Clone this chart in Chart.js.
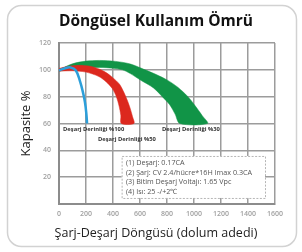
<!DOCTYPE html>
<html>
<head>
<meta charset="utf-8">
<script src="https://cdn.jsdelivr.net/npm/chart.js@4.4.1/dist/chart.umd.min.js"></script>
<style>
html, body { margin: 0; padding: 0; background: #fff; }
</style>
</head>
<body>
<canvas id="myChart" width="302" height="252"></canvas>
<script>
// tick values
const xTicks = [0, 200, 400, 600, 800, 1000, 1200, 1400, 1600];
const yTicks = [20, 40, 60, 80, 100, 120];

// %100 DoD - thin blue line
const cyc100 = [0, 40, 85, 125, 157, 178, 192, 202, 208];
const cap100 = [99.5, 101, 101.8, 99.5, 91, 83, 76, 68, 60];

// %50 DoD - red band (outer edge, inner edge)
const cyc50Outer = [0, 80, 180, 260, 340, 400, 450, 495, 525, 545, 555];
const cap50Outer = [101, 102.8, 103.3, 102, 98.5, 94, 89, 80, 72, 65, 60];
const cyc50Inner = [0, 100, 200, 295, 350, 395, 425, 445, 458, 462];
const cap50Inner = [99, 99.3, 98.3, 95, 91, 86, 80, 73, 66, 60];

// %30 DoD - green band
const cyc30Outer = [0, 100, 200, 300, 420, 530, 637, 720, 800, 880, 955, 1010, 1060, 1100];
const cap30Outer = [100, 104.5, 106.5, 107, 106.3, 104.3, 100, 96.5, 92.5, 87, 80, 73, 66, 60];
const cyc30Inner = [0, 100, 200, 300, 400, 470, 532, 600, 700, 765, 820, 860, 895];
const cap30Inner = [99, 100.3, 101.3, 101.8, 101.2, 100, 97, 92.6, 86.5, 80, 74, 67, 60];

const curveLabels = ['Deşarj Derinliği %100', 'Deşarj Derinliği %50', 'Deşarj Derinliği %30'];
const noteLines = [
    '(1) Deşarj: 0.17CA',
    '(2) Şarj: CV 2.4/hücre*16H Imax 0.3CA',
    '(3) Bitim Deşarj Voltajı: 1.65 Vpc',
    '(4) Isı: 25 -/+2℃'
];

// where the texts sit, in data units
const labelAnchors = [[30, 55.7], [289, 48.4], [763, 55.7]];
const noteBox = [464, 35.8, 1526, 4.5];
const noteTextAt = [496, 30.6];

function toPoints(xs, ys) {
    let pts = [];
    for (let i = 0; i < xs.length; i++) {
        pts.push({ x: xs[i], y: ys[i] });
    }
    return pts;
}

function bandPoints(xo, yo, xi, yi) {
    // outer edge left to right, then inner edge back to start
    return toPoints(xo, yo).concat(toPoints(xi, yi).reverse());
}

const notesPlugin = {
    id: 'notes',
    beforeDraw(chart) {
        const ctx = chart.ctx;
        ctx.save();
        ctx.strokeStyle = '#d2d2d2';
        ctx.lineWidth = 1.5;
        ctx.beginPath();
        ctx.roundRect(7.5, 5.5, 289, 241, 14);
        ctx.stroke();
        ctx.restore();
    },
    afterDatasetsDraw(chart) {
        const ctx = chart.ctx;
        const x = chart.scales.x;
        const y = chart.scales.y;
        ctx.save();

        ctx.font = 'bold 5.8px "Open Sans"';
        ctx.fillStyle = '#333';
        ctx.textBaseline = 'middle';
        for (let i = 0; i < curveLabels.length; i++) {
            ctx.fillText(curveLabels[i], x.getPixelForValue(labelAnchors[i][0]), y.getPixelForValue(labelAnchors[i][1]));
        }

        let bx1 = x.getPixelForValue(noteBox[0]);
        let by1 = y.getPixelForValue(noteBox[1]);
        let bx2 = x.getPixelForValue(noteBox[2]);
        let by2 = y.getPixelForValue(noteBox[3]);
        ctx.fillStyle = '#fff';
        ctx.fillRect(bx1, by1, bx2 - bx1, by2 - by1);
        ctx.setLineDash([2, 1.5]);
        ctx.strokeStyle = '#b5b5b5';
        ctx.lineWidth = 1;
        ctx.strokeRect(bx1 + 0.5, by1 + 0.5, bx2 - bx1, by2 - by1);
        ctx.setLineDash([]);

        ctx.font = '7.2px "Open Sans"';
        ctx.fillStyle = '#555';
        let tx = x.getPixelForValue(noteTextAt[0]);
        let ty = y.getPixelForValue(noteTextAt[1]);
        for (let i = 0; i < noteLines.length; i++) {
            ctx.fillText(noteLines[i], tx, ty + i * 9.6);
        }
        ctx.restore();
    }
};

var ctx = document.getElementById('myChart').getContext('2d');
var myChart = new Chart(ctx, {
    type: 'line',
    data: {
        datasets: [{
                data: toPoints(cyc100, cap100),
                borderColor: '#2c9fda',
                borderWidth: 2.5,
                fill: false,
                pointRadius: 0,
                tension: 0.4,
                order: 0
            },
            {
                data: bandPoints(cyc50Outer, cap50Outer, cyc50Inner, cap50Inner),
                borderColor: '#dc281e',
                backgroundColor: '#dc281e',
                borderWidth: 0.5,
                fill: 'shape',
                pointRadius: 0,
                tension: 0.3,
                order: 1
            },
            {
                data: bandPoints(cyc30Outer, cap30Outer, cyc30Inner, cap30Inner),
                borderColor: '#119447',
                backgroundColor: '#119447',
                borderWidth: 0.5,
                fill: 'shape',
                pointRadius: 0,
                tension: 0.3,
                order: 2
            }
        ]
    },
    options: {
        responsive: false,
        animation: false,
        layout: { padding: { left: 10, right: 0, top: 0, bottom: 0 } },
        plugins: {
            legend: { display: false },
            tooltip: { enabled: false },
            title: {
                display: true,
                text: 'Döngüsel Kullanım Ömrü',
                color: '#111',
                font: { family: 'Open Sans', size: 15.5, weight: 'bold' },
                padding: { top: 12, bottom: 12.4 }
            },
            subtitle: {
                display: true,
                position: 'bottom',
                text: 'Şarj-Deşarj Döngüsü (dolum adedi)',
                color: '#222',
                font: { family: 'Open Sans', size: 12.5 },
                padding: { top: 2, bottom: 11 }
            }
        },
        scales: {
            x: {
                type: 'linear',
                min: 0,
                max: 1600,
                afterBuildTicks: (s) => { s.ticks = xTicks.map(v => ({ value: v })); },
                ticks: {
                    color: '#a0a0a0',
                    font: { family: 'Open Sans', size: 7, weight: '600' },
                    padding: 6,
                    maxRotation: 0,
                    callback: (v) => String(v)
                },
                grid: { color: '#9c9c9c', lineWidth: 1.5, drawTicks: false },
                border: { color: '#8c8c8c', width: 2 },
                afterFit: (s) => { s.height = 20; }
            },
            y: {
                min: 0,
                max: 120,
                afterBuildTicks: (s) => { s.ticks = [0].concat(yTicks).map(v => ({ value: v })); },
                ticks: {
                    color: '#a0a0a0',
                    font: { family: 'Open Sans', size: 7, weight: '600' },
                    padding: 8,
                    callback: (v) => v === 0 ? '' : String(v)
                },
                grid: { color: '#9c9c9c', lineWidth: 1.5, drawTicks: false },
                border: { color: '#8c8c8c', width: 2 },
                title: {
                    display: true,
                    text: 'Kapasite %',
                    color: '#222',
                    font: { family: 'Open Sans', size: 13 },
                    padding: { top: 8, bottom: 0 }
                },
                afterFit: (s) => { s.width = 49; }
            },
            yRight: {
                type: 'linear',
                position: 'right',
                min: 0,
                max: 120,
                ticks: { display: false },
                grid: { display: false, drawTicks: false },
                border: { display: false },
                afterFit: (s) => { s.width = 27; }
            }
        }
    },
    plugins: [notesPlugin]
});
</script>
</body>
</html>
